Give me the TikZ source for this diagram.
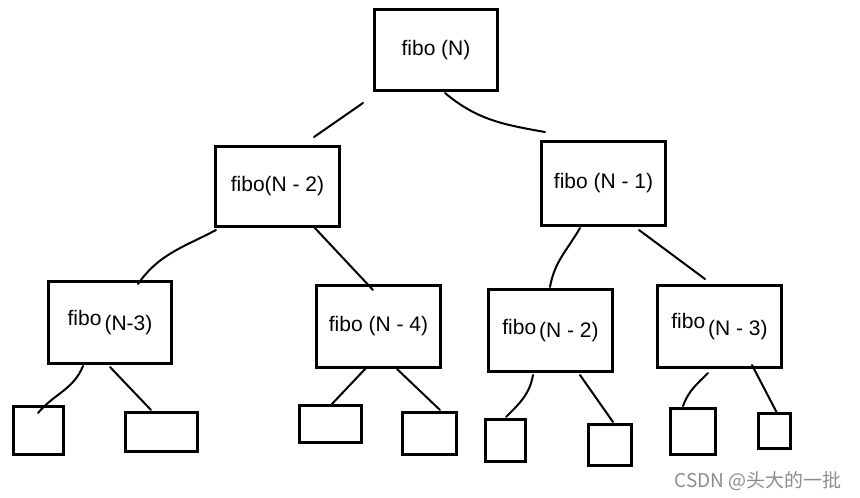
\documentclass[tikz,border=0pt]{standalone}
\usepackage{fontspec}
\setmainfont{Liberation Sans}
\newfontfamily\cjkfont{Noto Sans CJK SC}
\usetikzlibrary{calc}

\definecolor{markgray}{RGB}{140,140,140}

\tikzset{
  callbox/.style={draw, line width=3pt, inner sep=0pt, font=\fontsize{21}{24}\selectfont},
  leafbox/.style={draw, line width=3pt, inner sep=0pt},
  branch/.style={line width=2pt, line cap=round},
}

\begin{document}
\begin{tikzpicture}[x=1pt, y=-1pt]
  \useasboundingbox (0,0) rectangle (860,498);

  % calls
  \node[callbox] (a0) [minimum width=123pt, minimum height=81pt] at (436,50) {fibo (N)};
  \node[callbox] (a1) [minimum width=124pt, minimum height=80pt] at (277.5,186.5) {fibo(N - 2)};
  \node[callbox] (a2) [minimum width=124pt, minimum height=84pt] at (603.5,183.5) {fibo (N - 1)};
  \node[callbox] (a3) [minimum width=123pt, minimum height=82pt] at (110,322.5) {fibo\kern3pt\raisebox{-5pt}{(N-3)}};
  \node[callbox] (a4) [minimum width=124pt, minimum height=82pt] at (378.5,326.5) {fibo (N - 4)};
  \node[callbox] (a5) [minimum width=124pt, minimum height=82pt] at (550.5,330.5) {fibo\kern3pt\raisebox{-3pt}{(N - 2)}};
  \node[callbox] (a6) [minimum width=124pt, minimum height=82pt] at (719.5,326.5) {fibo\kern3pt\raisebox{-7pt}{(N - 3)}};

  % next calls, left empty
  \node[leafbox] (b1) [minimum width=50pt, minimum height=48pt] at (38.5,430.5) {};
  \node[leafbox] (b2) [minimum width=72pt, minimum height=39pt] at (161.5,432) {};
  \node[leafbox] (b3) [minimum width=62pt, minimum height=37pt] at (330.5,424) {};
  \node[leafbox] (b4) [minimum width=54pt, minimum height=42pt] at (429.5,433.5) {};
  \node[leafbox] (b5) [minimum width=40pt, minimum height=42pt] at (505.5,440.5) {};
  \node[leafbox] (b6) [minimum width=43pt, minimum height=41pt] at (610,445) {};
  \node[leafbox] (b7) [minimum width=45pt, minimum height=46pt] at (693,431.5) {};
  \node[leafbox] (b8) [minimum width=32pt, minimum height=35pt] at (774.5,431) {};

  \path[branch] ($(a0.south west)+(-10,11)$) edge ($(a1.north)+(36.5,-8)$);
  \path[branch] ($(a0.south)+(9,1)$) edge[out=-40, in=170] ($(a2.north)+(-58.5,-8)$);
  \path[branch] ($(a1.south west)+(2,2)$) edge[out=-152, in=55] ($(a3.north)+(28,4)$);
  \path[branch] ($(a1.south)+(35.5,-2)$) edge ($(a4.north)+(-5.5,6)$);
  \path[branch] ($(a2.south)+(-23.5,1)$) edge[out=-120, in=80] ($(a5.north)+(-0.5,-1)$);
  \path[branch] ($(a2.south)+(35.5,3)$) edge ($(a6.north)+(-14.5,-5)$);

  \path[branch] ($(a3.south)+(-27,1)$) edge[out=-112, in=50] ($(b1.north)+(-0.5,8)$);
  \path[branch] ($(a3.south)+(0,2)$) edge ($(b2.north)+(-10.5,-1)$);
  \path[branch] ($(a4.south)+(-11.5,-2)$) edge ($(b3.north)+(0.5,1)$);
  \path[branch] ($(a4.south)+(18.5,0)$) edge ($(b4.north)+(10.5,-1)$);
  \path[branch] ($(a5.south)+(-17.5,2)$) edge[out=-100, in=45] ($(b5.north)+(0.5,-1)$);
  \path[branch] ($(a5.south)+(29.5,2)$) edge ($(b6.north)+(3,-1)$);
  \path[branch] ($(a6.south)+(-11.5,4)$) edge[out=-135, in=70] ($(b7.north)+(-10,-1)$);
  \path[branch] ($(a6.south)+(32.5,-4)$) edge ($(b8.north)+(2.5,1)$);

  \node[text=markgray, font=\cjkfont\fontsize{19}{22}\selectfont] (csdn) at (758,481) {CSDN @头大的一批};

\end{tikzpicture}
\end{document}
